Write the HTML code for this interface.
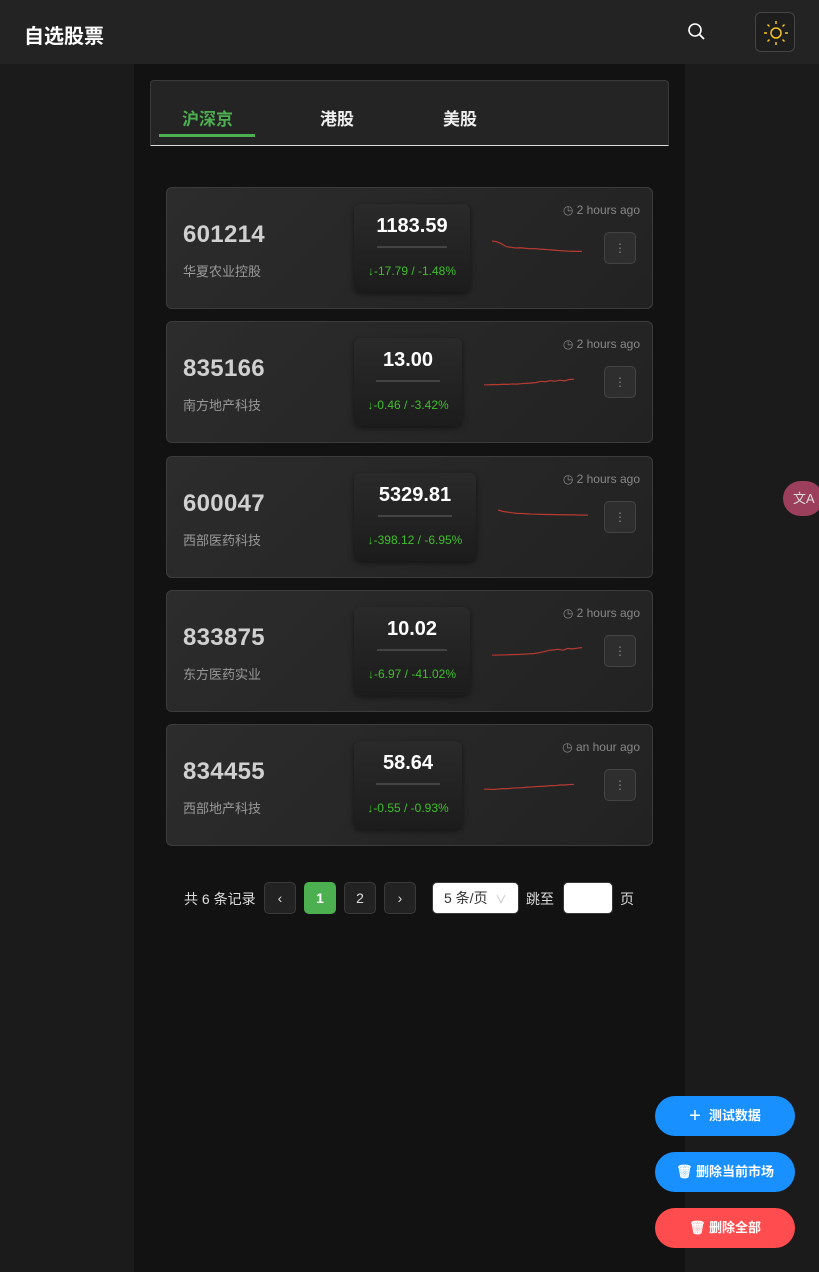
<!DOCTYPE html>
<html><head><meta charset="utf-8"><style>
*{box-sizing:border-box;margin:0;padding:0}
body{width:819px;height:1272px;background:#1b1b1b;font-family:"Liberation Sans","Noto Sans CJK SC",sans-serif;position:relative;overflow:hidden;color:#fff}
.hdr{position:absolute;left:0;top:0;width:819px;height:64px;background:#232323}
.col{position:absolute;left:134px;top:64px;width:551px;height:1208px;background:#121212}
.tabs{position:absolute;left:150px;top:80px;width:519px;height:66px;background:#242424;border:1px solid #3a3a3a;border-radius:4px 4px 0 0;border-bottom:1px solid #ddd}
.tab{position:absolute;top:24px;font-size:17px;font-weight:bold;color:#eee}
.card{position:absolute;left:166px;width:487px;height:122px;border:1px solid #3c3c3c;border-radius:6px;background:linear-gradient(135deg,#2c2c2c,#222)}
.code{position:absolute;left:16px;top:33px;font-size:24px;font-weight:900;color:#d0d0d0;letter-spacing:0.3px}
.name{position:absolute;left:16px;top:73px;font-size:13px;color:#999}
.pbox{position:absolute;left:187px;top:16px;height:88px;border-radius:7px;background:linear-gradient(#2a2a2a,#1c1c1c);box-shadow:0 2px 6px rgba(0,0,0,.5)}
.price{position:absolute;left:0;right:0;top:11px;text-align:center;font-size:20px;font-weight:900;color:#fff}
.sep{position:absolute;left:20%;right:20%;top:42px;height:2px;background:#444}
.chg{position:absolute;left:0;right:0;top:60px;text-align:center;font-size:12px;color:#3fbf2a}
.time{position:absolute;right:12px;top:15px;font-size:12px;color:#888}
.more{position:absolute;left:437px;top:44px;width:32px;height:32px;border:1px solid #444;border-radius:5px;background:#2e2e2e;color:#888;text-align:center;line-height:30px;font-size:12px}
.spark{position:absolute;top:0;left:0}
.pg{position:absolute;top:882px;height:32px;border:1px solid #3a3a3a;border-radius:5px;background:#222;text-align:center;line-height:30px;font-size:14px;color:#ddd}
.fab{position:absolute;left:655px;width:140px;height:40px;border-radius:20px;color:#fff;font-size:13px;font-weight:bold;line-height:40px;text-align:center}
</style></head><body>
<div class="hdr">
<div style="position:absolute;left:24px;top:20px;font-size:20px;font-weight:bold">自选股票</div>
<svg style="position:absolute;left:687px;top:22px" width="20" height="20"><circle cx="8" cy="8" r="6" stroke="#fff" stroke-width="1.6" fill="none"/><line x1="12.5" y1="12.5" x2="17" y2="17" stroke="#fff" stroke-width="1.8"/></svg>
<div style="position:absolute;left:755px;top:12px;width:40px;height:40px;border:1px solid #444;border-radius:6px;background:#1e1e1e">
<svg width="40" height="40"><circle cx="20" cy="20" r="5" stroke="#f5c518" stroke-width="1.5" fill="none"/><g stroke="#f5c518" stroke-width="1.5"><line x1="20" y1="8" x2="20" y2="11"/><line x1="20" y1="29" x2="20" y2="32"/><line x1="8" y1="20" x2="11" y2="20"/><line x1="29" y1="20" x2="32" y2="20"/><line x1="11.5" y1="11.5" x2="13.5" y2="13.5"/><line x1="26.5" y1="26.5" x2="28.5" y2="28.5"/><line x1="11.5" y1="28.5" x2="13.5" y2="26.5"/><line x1="26.5" y1="13.5" x2="28.5" y2="11.5"/></g></svg></div>
</div>
<div class="col"></div>
<div class="tabs">
<div class="tab" style="left:31px;color:#4caf50">沪深京</div>
<div class="tab" style="left:169px">港股</div>
<div class="tab" style="left:292px">美股</div>
<div style="position:absolute;left:8px;top:53px;width:96px;height:3px;background:#4caf50"></div>
</div>
<div id="cards"></div>
<div style="position:absolute;left:184px;top:889px;font-size:14px;color:#ddd">共 6 条记录</div>
<div class="pg" style="left:264px;width:32px">‹</div>
<div class="pg" style="left:304px;width:32px;background:#4caf50;border-color:#4caf50;color:#fff;font-weight:bold">1</div>
<div class="pg" style="left:344px;width:32px">2</div>
<div class="pg" style="left:384px;width:32px">›</div>
<div class="pg" style="left:432px;width:87px;background:#fff;color:#333;text-align:left;padding-left:11px">5 条/页 <span style="color:#bbb;font-size:11px;margin-left:4px">∨</span></div>
<div style="position:absolute;left:526px;top:889px;font-size:14px;color:#ddd">跳至</div>
<div class="pg" style="left:563px;width:50px;background:#fff"></div>
<div style="position:absolute;left:620px;top:889px;font-size:14px;color:#ddd">页</div>
<div style="position:absolute;left:783px;top:481px;width:40px;height:35px;border-radius:18px;background:#9c3f5c;color:#ddd;font-size:13px;line-height:35px;padding-left:10px">文A</div>
<div class="fab" style="top:1096px;background:#1890ff"><span style="font-size:20px;font-weight:normal;vertical-align:-2px;margin-right:8px">+</span>测试数据</div>
<div class="fab" style="top:1152px;background:#1890ff">🗑 删除当前市场</div>
<div class="fab" style="top:1208px;background:#ff4d4f">🗑 删除全部</div>
<script>
const codes=["601214","835166","600047","833875","834455"];
const names=["华夏农业控股","南方地产科技","西部医药科技","东方医药实业","西部地产科技"];
const prices=["1183.59","13.00","5329.81","10.02","58.64"];
const changes=["-17.79 / -1.48%","-0.46 / -3.42%","-398.12 / -6.95%","-6.97 / -41.02%","-0.55 / -0.93%"];
const times=["2 hours ago","2 hours ago","2 hours ago","2 hours ago","an hour ago"];
const spark0=[10,9.5,8,6,5.5,5,5.2,4.8,4.5,4.6,4.2,4,3.8,3.5,3.2,3,2.8,2.7,2.6,2.6];
const spark1=[3,3,3.2,3.1,3.4,3.3,3.6,3.5,3.9,4,4.3,4.6,5.5,5.2,6,5.6,6.3,5.8,6.8,7];
const spark2=[10,9,8.5,8,7.6,7.5,7.3,7.1,7,6.9,6.8,6.8,6.7,6.6,6.6,6.5,6.5,6.4,6.4,6.3];
const spark3=[2,2.1,2.2,2.2,2.4,2.5,2.6,2.8,3,3.2,3.8,4.5,5.5,5.8,6.2,5.6,6.8,6.5,7,7.4];
const spark4=[2,2,1.8,2.1,2.4,2.4,2.8,3,3,3.4,3.6,3.8,4,4.2,4.6,4.5,5,5,5.3,5.5];
const sparks=[spark0,spark1,spark2,spark3,spark4];
const boxW=[116,108,122,116,108];
const sparkX=[325,317,331,325,317];
const tops=[187,321,456,590,724];
const wrap=document.getElementById('cards');
codes.forEach((c,i)=>{
 const d=document.createElement('div');d.className='card';d.style.top=tops[i]+'px';
 
 
 d.innerHTML=`<div class="code">${c}</div><div class="name">${names[i]}</div>
 <div class="pbox" style="width:${boxW[i]}px"><div class="price">${prices[i]}</div><div class="sep"></div><div class="chg">↓${changes[i]}</div></div>
 <div class="time">◷ ${times[i]}</div>
 <div class="more">⋮</div>`;
 const s=sparks[i],W=90;
 const x=k=>sparkX[i]+k*W/(s.length-1), y=v=>67-v*1.4;
 const ns='http://www.w3.org/2000/svg';
 const svg=document.createElementNS(ns,'svg');svg.setAttribute('class','spark');svg.setAttribute('width','487');svg.setAttribute('height','122');
 
 
 const p=document.createElementNS(ns,'polyline');
 p.setAttribute('points',s.map((v,k)=>x(k)+','+y(v)).join(' '));
 p.setAttribute('fill','none');p.setAttribute('stroke','#b83a32');p.setAttribute('stroke-width','1.2');
 
 
 svg.appendChild(p);d.appendChild(svg);wrap.appendChild(d);
});
</script>
</body></html>
